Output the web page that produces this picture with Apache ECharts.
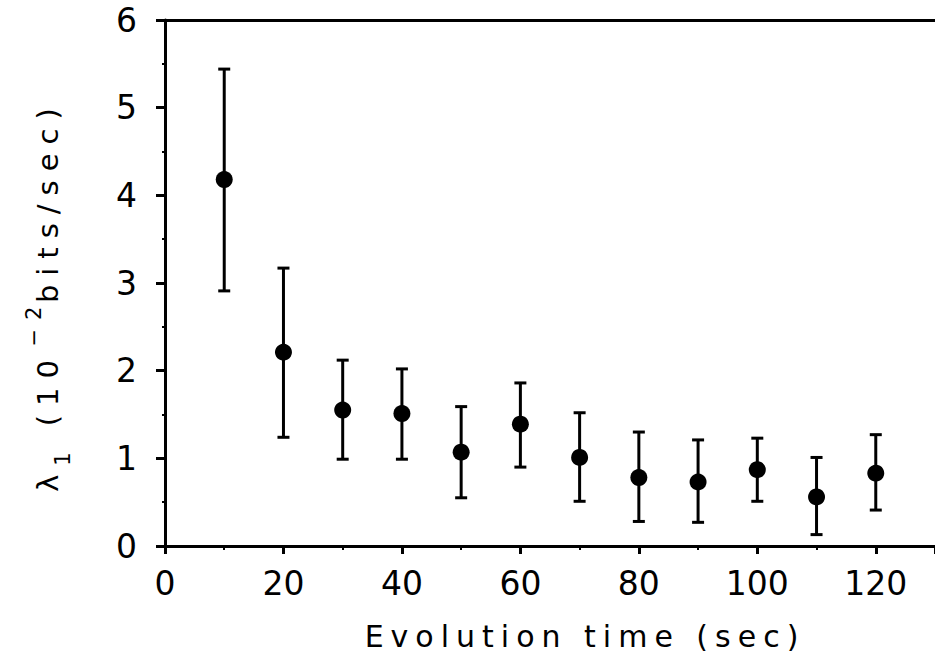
<!DOCTYPE html>
<html>
<head>
<meta charset="utf-8">
<script src="https://cdn.jsdelivr.net/npm/echarts@6/dist/echarts.min.js"></script>
<style>
  html, body { margin: 0; padding: 0; background: #fff; }
  #chart { width: 935px; height: 662px; }
  /* axis titles are set wide, letter by letter */
  #chart text[style*="30px"] { letter-spacing: 7px; }
  #chart text[style*="29px"], #chart text[style*="21px"] { letter-spacing: 9px; }
</style>
</head>
<body>
<div id="chart"></div>
<script>
// Largest Lyapunov exponent vs. evolution time, with error bars
const times = [10, 20, 30, 40, 50, 60, 70, 80, 90, 100, 110, 120];
const lambda1 = [4.18, 2.21, 1.55, 1.51, 1.07, 1.39, 1.01, 0.78, 0.73, 0.87, 0.56, 0.83];
const errLow = [2.91, 1.24, 0.99, 0.99, 0.55, 0.90, 0.51, 0.28, 0.27, 0.51, 0.13, 0.41];
const errHigh = [5.44, 3.17, 2.12, 2.02, 1.59, 1.86, 1.52, 1.30, 1.21, 1.23, 1.01, 1.27];
const xTicks = [0, 20, 40, 60, 80, 100, 120];
const yTicks = [0, 1, 2, 3, 4, 5, 6];

const xTitle = 'Evolution time (sec)';
// y title pieces: symbol, subscript, prefix, exponent, units
const yTitleParts = ['λ', '1', '(10', '\u22122', 'bits/sec)'];

const FONT = 'DejaVu Sans';
const INK = '#000';
const SPACE_Y = 9;   // letter spacing of the y title (px per character)
const WORD_GAP = 26; // blank between the words of the y title

// each rich token reserves room for its own letter spacing
const pad = s => [0, s.length * SPACE_Y, 0, 0];
const yTitleRich = {
  m1: { fontFamily: FONT, fontSize: 29, color: INK, lineHeight: 50, padding: pad(yTitleParts[0]) },
  sub: { fontFamily: FONT, fontSize: 21, color: INK, lineHeight: 30, verticalAlign: 'bottom', padding: pad(yTitleParts[1]) },
  gap: { fontFamily: FONT, fontSize: 12, color: 'rgba(0,0,0,0)', lineHeight: 50, width: WORD_GAP },
  m2: { fontFamily: FONT, fontSize: 29, color: INK, lineHeight: 50, padding: pad(yTitleParts[2]) },
  sup: { fontFamily: FONT, fontSize: 21, color: INK, lineHeight: 30, verticalAlign: 'top', padding: pad(yTitleParts[3]) },
  m3: { fontFamily: FONT, fontSize: 29, color: INK, lineHeight: 50, padding: pad(yTitleParts[4]) }
};
const yTitle = `{m1|${yTitleParts[0]}}{sub|${yTitleParts[1]}}{gap|.}{m2|${yTitleParts[2]}}` +
  `{sup|${yTitleParts[3]}}{gap|.}{m3|${yTitleParts[4]}}`;

const chart = echarts.init(document.getElementById('chart'), null, { renderer: 'svg' });

const points = times.map((t, i) => [t, lambda1[i]]);
const bars = times.map((t, i) => [t, errLow[i], errHigh[i]]);

chart.setOption({
  animation: false,
  backgroundColor: '#fff',
  grid: { left: 165, right: -5, top: 20, bottom: 116 },
  xAxis: [{
    type: 'value',
    min: xTicks[0],
    max: 130,
    interval: xTicks[1] - xTicks[0],
    name: xTitle,
    nameLocation: 'middle',
    nameGap: 75,
    nameTextStyle: { fontFamily: FONT, fontSize: 30, color: INK, padding: [0, 0, 0, 70] },
    axisLine: { show: true, lineStyle: { color: INK, width: 3 } },
    axisTick: { show: true, length: 8, lineStyle: { color: INK, width: 3 } },
    minorTick: { show: true, splitNumber: 2, length: 4, lineStyle: { color: INK, width: 2 } },
    axisLabel: {
      margin: 21, fontFamily: FONT, fontSize: 33, color: INK, showMaxLabel: false,
      formatter: v => (xTicks.includes(v) ? String(v) : '')
    },
    splitLine: { show: false }
  }, {
    type: 'value',
    position: 'top',
    min: 0,
    max: 130,
    axisLine: { show: true, lineStyle: { color: INK, width: 3 } },
    axisTick: { show: false },
    axisLabel: { show: false },
    splitLine: { show: false }
  }],
  yAxis: {
    type: 'value',
    min: yTicks[0],
    max: yTicks[yTicks.length - 1],
    interval: yTicks[1] - yTicks[0],
    name: yTitle,
    nameLocation: 'middle',
    nameGap: 92,
    nameTextStyle: { rich: yTitleRich, padding: [0, 0, 0, 20] },
    axisLine: { show: true, lineStyle: { color: INK, width: 3 } },
    axisTick: { show: true, length: 9, lineStyle: { color: INK, width: 3 } },
    minorTick: { show: true, splitNumber: 2, length: 3, lineStyle: { color: INK, width: 2 } },
    axisLabel: { margin: 28, fontFamily: FONT, fontSize: 33, color: INK },
    splitLine: { show: false }
  },
  series: [{
    type: 'custom',
    name: 'error',
    xAxisIndex: 0,
    data: bars,
    renderItem: (params, api) => {
      const lo = api.coord([api.value(0), api.value(1)]);
      const hi = api.coord([api.value(0), api.value(2)]);
      const cap = 6;
      const style = { stroke: INK, lineWidth: 3 };
      return {
        type: 'group',
        children: [
          { type: 'line', shape: { x1: lo[0], y1: lo[1], x2: hi[0], y2: hi[1] }, style },
          { type: 'line', shape: { x1: lo[0] - cap, y1: lo[1], x2: lo[0] + cap, y2: lo[1] }, style },
          { type: 'line', shape: { x1: hi[0] - cap, y1: hi[1], x2: hi[0] + cap, y2: hi[1] }, style }
        ]
      };
    },
    z: 2
  }, {
    type: 'scatter',
    name: 'lambda1',
    xAxisIndex: 0,
    data: points,
    symbol: 'circle',
    symbolSize: 17,
    itemStyle: { color: INK, opacity: 1 },
    z: 3
  }]
});
</script>
</body>
</html>
